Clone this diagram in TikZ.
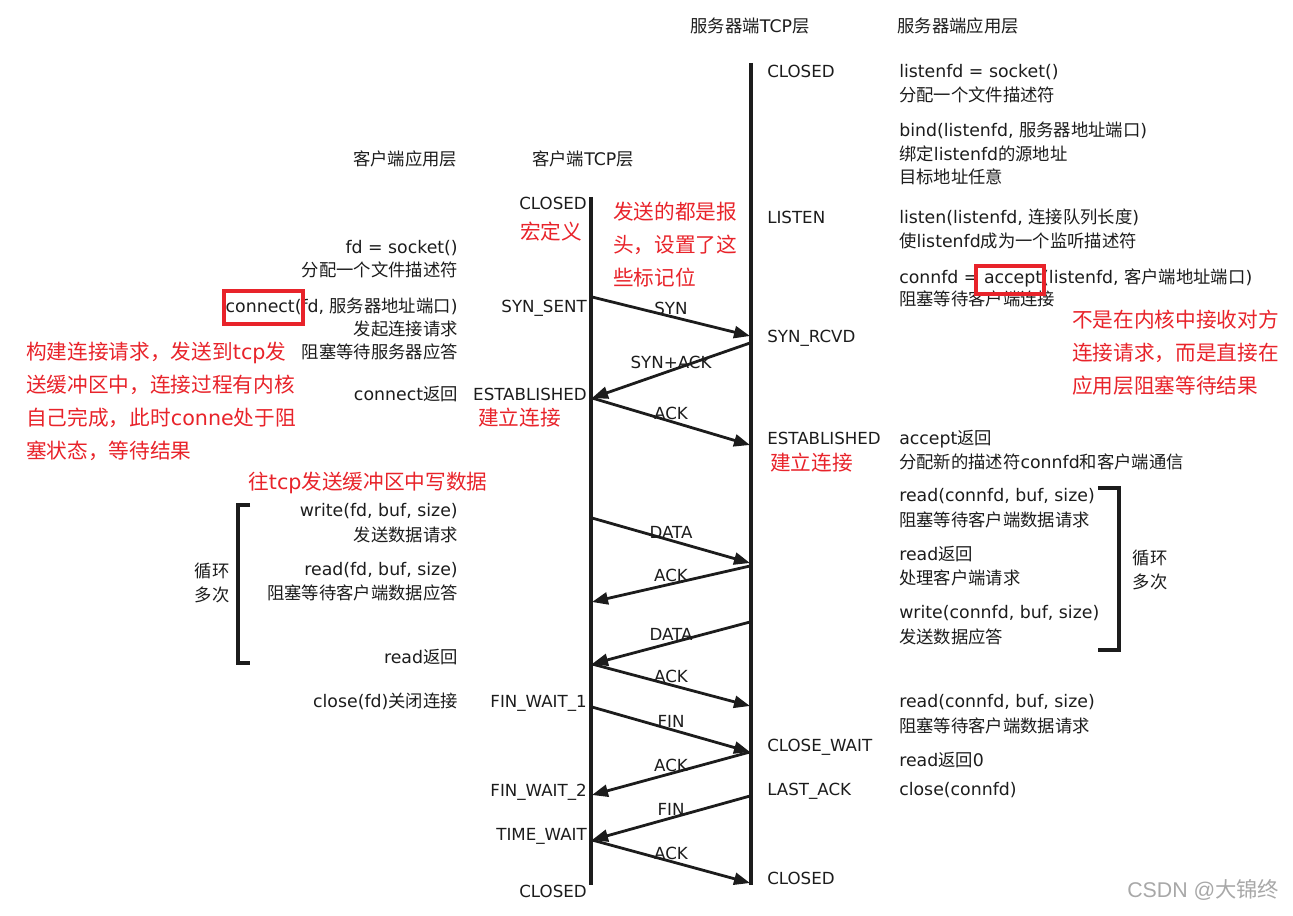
\documentclass[tikz,border=0pt]{standalone}
\usepackage{fontspec}
\setmainfont{DejaVu Sans}
\newfontfamily\latf{DejaVu Sans}
\newfontfamily\cjkf{Noto Sans CJK SC}
\newfontfamily\wmfont{Liberation Sans}
\usetikzlibrary{arrows.meta, positioning}
\definecolor{ink}{HTML}{1C1C1C}
\definecolor{nred}{HTML}{E8232A}
\definecolor{wmgray}{HTML}{A8A8A8}

% switch to the CJK family for ideographs and full-width punctuation
\XeTeXinterchartokenstate=1
\newXeTeXintercharclass\cjkclass
\makeatletter
\count@="4E00
\loop\XeTeXcharclass\count@=\cjkclass\advance\count@ 1 \ifnum\count@<"A000 \repeat
\count@="3000
\loop\XeTeXcharclass\count@=\cjkclass\advance\count@ 1 \ifnum\count@<"3040 \repeat
\count@="FF00
\loop\XeTeXcharclass\count@=\cjkclass\advance\count@ 1 \ifnum\count@<"FFF0 \repeat
\makeatother
\XeTeXinterchartoks 0 \cjkclass = {\cjkf}
\XeTeXinterchartoks 4095 \cjkclass = {\cjkf}
\XeTeXinterchartoks \cjkclass 0 = {\latf}
\XeTeXinterchartoks \cjkclass 4095 = {\latf}

\tikzset{
  lifeline/.style = {draw=ink, line width=3pt},
  msg/.style      = {draw=ink, line width=2.1pt, -{Triangle[length=12pt,width=9pt]}},
  msglab/.style   = {font=\fontsize{12.5}{14}\selectfont, text=ink, above, inner sep=0.5pt},
  state/.style    = {font=\fontsize{12.5}{14}\selectfont, text=ink, inner sep=0pt,
                     text height=11pt, text depth=3pt},
  apptxt/.style   = {font=\fontsize{13}{18}\selectfont, text=ink, inner sep=0pt,
                     text height=11pt, text depth=3pt},
  note/.style     = {font=\fontsize{15.5}{24.75}\selectfont, text=nred, inner sep=0pt,
                     align=left, anchor=north west},
  markbox/.style  = {draw=nred, line width=3pt},
  loopbr/.style   = {draw=ink, line width=2.3pt, line cap=butt},
}

\begin{document}
\begin{tikzpicture}[x=0.75pt, y=-0.75pt]
  \useasboundingbox (0,0) rectangle (1293,916);
  % headers
  \node[apptxt] (hsrvtcp) at (750,27) {服务器端TCP层};
  \node[apptxt] (hsrvapp) at (958,27) {服务器端应用层};
  \node[apptxt] (hcliapp) at (405,160) {客户端应用层};
  \node[apptxt] (hclitcp) at (583,160) {客户端TCP层};
  % lifelines
  \coordinate (ctop) at (591,197);
  \coordinate (cbot) at (591,885);
  \coordinate (stop) at (751,63);
  \coordinate (sbot) at (751,885);
  \draw[lifeline] (ctop) -- (cbot);
  \draw[lifeline] (stop) -- (sbot);
  % tcp states
  \foreach \y/\t [count=\i] in {204/CLOSED, 307/SYN\_SENT, 395/ESTABLISHED,
      702/FIN\_WAIT\_1, 791/FIN\_WAIT\_2, 835/TIME\_WAIT, 892/CLOSED}
    \node[state, anchor=east] (cst\i) at (587,\y) {\t};
  \foreach \y/\t [count=\i] in {72/CLOSED, 218/LISTEN, 337/SYN\_RCVD, 439/ESTABLISHED,
      746/CLOSE\_WAIT, 790/LAST\_ACK, 879/CLOSED}
    \node[state, anchor=west] (sst\i) at (767,\y) {\t};
  % client application
  \foreach \y/\t [count=\i] in {248/{fd = socket()}, 271/分配一个文件描述符,
      307/{connect(fd, 服务器地址端口)}, 330/发起连接请求, 353/阻塞等待服务器应答,
      395/connect返回, 511/{write(fd, buf, size)}, 536/发送数据请求,
      570/{read(fd, buf, size)}, 594/阻塞等待客户端数据应答, 658/read返回,
      702/close(fd)关闭连接}
    \node[apptxt, anchor=east] (capp\i) at (458,\y) {\t};
  % server application
  \foreach \y/\t [count=\i] in {72/{listenfd = socket()}, 96/分配一个文件描述符,
      131/{bind(listenfd, 服务器地址端口)}, 155/绑定listenfd的源地址, 178/目标地址任意,
      218/{listen(listenfd, 连接队列长度)}, 242/使listenfd成为一个监听描述符,
      278/{connfd = accept(listenfd, 客户端地址端口)}, 300/阻塞等待客户端连接,
      439/accept返回, 463/分配新的描述符connfd和客户端通信,
      496/{read(connfd, buf, size)}, 521/阻塞等待客户端数据请求,
      555/read返回, 579/处理客户端请求,
      613/{write(connfd, buf, size)}, 638/发送数据应答,
      702/{read(connfd, buf, size)}, 727/阻塞等待客户端数据请求,
      761/read返回0, 790/close(connfd)}
    \node[apptxt, anchor=west] (sapp\i) at (899,\y) {\t};
  % segments client -> server
  \foreach \n/\yc/\ys/\lab in {1/297/336/SYN, 3/398/445/ACK, 4/518/563/DATA,
      7/664/706/ACK, 8/707/752/FIN, 11/840/883/ACK} {
    \coordinate (c\n) at (592,\yc);
    \coordinate (s\n) at (750,\ys);
    \draw[msg] (c\n) -- node[msglab] {\lab} (s\n);
  }
  % segments server -> client
  \foreach \n/\yc/\ys/\lab in {2/398/343/SYN+ACK, 5/602/566/ACK, 6/664/622/DATA,
      9/795/752/ACK, 10/840/796/FIN} {
    \coordinate (c\n) at (592,\yc);
    \coordinate (s\n) at (750,\ys);
    \draw[msg] (s\n) -- node[msglab] {\lab} (c\n);
  }
  % loops
  \draw[loopbr] (250,505) -- (238,505) -- (238,663) -- (250,663);
  \node[apptxt, align=center, text height=, text depth=] (cloop) at (212,583) {循环\\多次};
  \draw[loopbr] (1098,488) -- (1119,488) -- (1119,650) -- (1098,650);
  \node[apptxt, align=center, text height=, text depth=] (sloop) at (1150,570) {循环\\多次};
  % red marks
  \draw[markbox] (224,291) rectangle (303,324);
  \draw[markbox] (976,266) rectangle (1044,294);
  \node[note] (nmacro) at (520,222) {宏定义};
  \node[note] (nhead) at (613,202) {发送的都是报\\头，设置了这\\些标记位};
  \node[note] (nconn) at (26,342) {构建连接请求，发送到tcp发\\送缓冲区中，连接过程有内核\\自己完成，此时conne处于阻\\塞状态，等待结果};
  \node[note] (nest1) at (478,408) {建立连接};
  \node[note] (nest2) at (770,453) {建立连接};
  \node[note] (naccept) at (1072,310) {不是在内核中接收对方\\连接请求，而是直接在\\应用层阻塞等待结果};
  \node[note] (nwrite) at (248,472) {往tcp发送缓冲区中写数据};
  \node[anchor=west, text=wmgray, font=\wmfont\fontsize{16}{18}\selectfont, inner sep=0pt] (wm) at (1127,890) {CSDN @大锦终};
\end{tikzpicture}
\end{document}
